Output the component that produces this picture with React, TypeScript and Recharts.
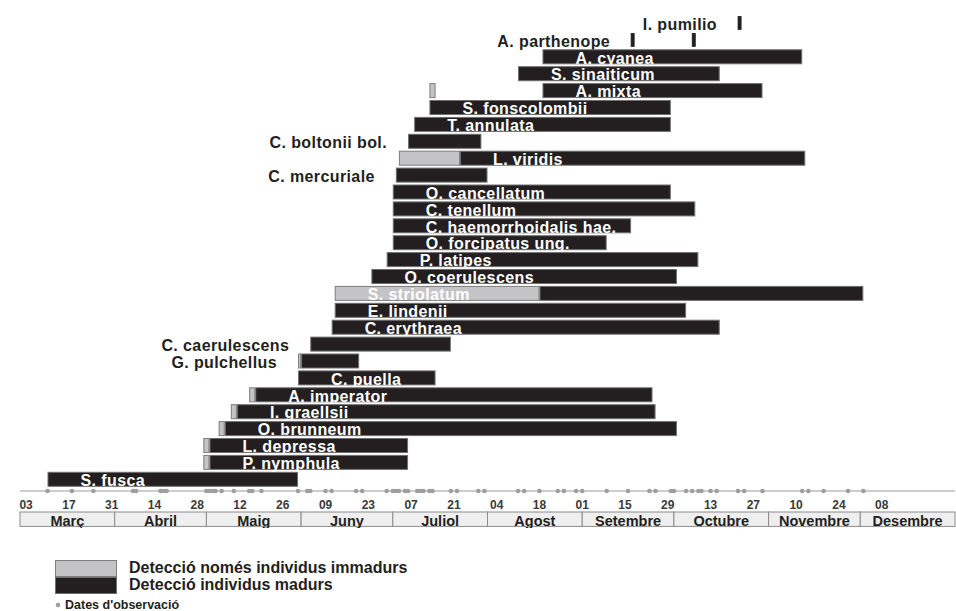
import React from 'react';
import { BarChart, Bar, XAxis, YAxis, Legend } from 'recharts';

// Species, top row first
const species = [
  'I. pumilio', 'A. parthenope', 'A. cyanea', 'S. sinaiticum', 'A. mixta', 'S. fonscolombii',
  'T. annulata', 'C. boltonii bol.', 'L. viridis', 'C. mercuriale', 'O. cancellatum', 'C. tenellum',
  'C. haemorrhoidalis hae.', 'O. forcipatus ung.', 'P. latipes', 'O. coerulescens', 'S. striolatum',
  'E. lindenii', 'C. erythraea', 'C. caerulescens', 'G. pulchellus', 'C. puella', 'A. imperator',
  'I. graellsii', 'O. brunneum', 'L. depressa', 'P. nymphula', 'S. fusca',
];

// Period with only immature individuals detected (MM-DD from / to), null if none
const immature: ([string, string] | null)[] = [
  null, null, null, null, ['07-13', '07-15'], null,
  null, null, ['07-03', '07-23'], null, null, null,
  null, null, null, null, ['06-12', '08-18'],
  null, null, null, ['05-31', '06-01'], null, ['05-15', '05-17'],
  ['05-09', '05-11'], ['05-05', '05-07'], ['04-30', '05-02'], ['04-30', '05-02'], null,
];

// Periods with mature individuals detected (MM-DD from / to)
const mature: [string, string][][] = [
  [['10-22', '10-23']],
  [['09-17', '09-18'], ['10-07', '10-08']],
  [['08-19', '11-12']],
  [['08-11', '10-16']],
  [['08-19', '10-30']],
  [['07-13', '09-30']],
  [['07-08', '09-30']],
  [['07-06', '07-30']],
  [['07-23', '11-13']],
  [['07-02', '08-01']],
  [['07-01', '09-30']],
  [['07-01', '10-08']],
  [['07-01', '09-17']],
  [['07-01', '09-09']],
  [['06-29', '10-09']],
  [['06-24', '10-02']],
  [['08-18', '12-02']],
  [['06-12', '10-05']],
  [['06-11', '10-16']],
  [['06-04', '07-20']],
  [['06-01', '06-20']],
  [['05-31', '07-15']],
  [['05-17', '09-24']],
  [['05-11', '09-25']],
  [['05-07', '10-02']],
  [['05-02', '07-06']],
  [['05-02', '07-06']],
  [['03-10', '05-31']],
];

// Field visit dates
const observationDates = [
  '03-10', '03-18', '03-25', '04-07', '04-08', '04-16', '04-17', '04-18',
  '05-01', '05-02', '05-03', '05-04', '05-06', '05-10', '05-15', '05-16', '05-19', '05-31',
  '06-03', '06-04', '06-09', '06-11', '06-19', '06-21', '06-29',
  '07-01', '07-02', '07-03', '07-05', '07-06', '07-09', '07-10', '07-11', '07-13', '07-14',
  '07-20', '07-22', '07-29', '07-31',
  '08-11', '08-13', '08-18', '08-24', '08-26', '08-30',
  '09-01', '09-09', '09-16', '09-23', '09-25', '09-30',
  '10-01', '10-05', '10-07', '10-09', '10-10', '10-13', '10-15', '10-22', '10-24', '10-30',
  '11-12', '11-14', '11-19', '11-27', '12-02',
];

// Fortnightly axis labels
const tickDates = [
  '03-03', '03-17', '03-31', '04-14', '04-28', '05-12', '05-26', '06-09', '06-23', '07-07',
  '07-21', '08-04', '08-18', '09-01', '09-15', '09-29', '10-13', '10-27', '11-10', '11-24', '12-08',
];

const months = ['Març', 'Abril', 'Maig', 'Juny', 'Juliol', 'Agost', 'Setembre', 'Octubre', 'Novembre', 'Desembre'];
const monthDays = [31, 30, 31, 30, 31, 31, 30, 31, 30, 31];

const legendLabels = ['Detecció només individus immadurs', 'Detecció individus madurs'];
const observationLabel = "Dates d'observació";

// ---- helpers ----
const FONT = '"Liberation Sans", Arial, Helvetica, sans-serif';
const INK = '#231f20';
const COLORS = {
  imm: { fill: '#c4c4c6', stroke: '#7d7d7d' },
  mat: { fill: INK, stroke: '#6f6f6f' },
};
const DOT = '#9e9e9e';

const monthStart = monthDays.reduce<number[]>((acc, d, i) => { acc.push(acc[i] + d); return acc; }, [0]);
const SEASON_END = monthStart[monthStart.length - 1];
const dayIndex = (s: string) => {
  const [m, d] = s.split('-').map(Number);
  return monthStart[m - 3] + d - 1;
};

type Span = { from: number; to: number; kind: 'imm' | 'mat' };
type Row = { name: string; spans: Span[]; anchor: number; [k: string]: any };

const rows: Row[] = species.map((name, i) => {
  const spans: Span[] = [];
  const imm = immature[i];
  if (imm) spans.push({ from: dayIndex(imm[0]), to: dayIndex(imm[1]), kind: 'imm' });
  mature[i].forEach(([a, b]) => spans.push({ from: dayIndex(a), to: dayIndex(b), kind: 'mat' }));
  spans.sort((a, b) => a.from - b.from);
  const rec: Row = { name, spans, anchor: 0, g0: 0, v0: 0, g1: 0, v1: 0 };
  let cursor = 0;
  spans.forEach((s, k) => {
    rec['g' + k] = s.from - cursor;
    rec['v' + k] = s.to - s.from;
    cursor = s.to;
  });
  // the name sits on the first mature period, unless a long immature period leads
  let anchor = spans.findIndex((s) => s.kind === 'mat');
  if (spans[0].kind === 'imm' && spans[0].to - spans[0].from > 40) anchor = 0;
  rec.anchor = anchor;
  return rec;
});

let measureCtx: CanvasRenderingContext2D | null = null;
const LABEL_SIZE = 16;
const LABEL_SPACING = 0.4;
function textWidth(s: string) {
  if (!measureCtx && typeof document !== 'undefined') {
    measureCtx = document.createElement('canvas').getContext('2d');
  }
  if (measureCtx) {
    measureCtx.font = `bold ${LABEL_SIZE}px ${FONT}`;
    return measureCtx.measureText(s).width + s.length * LABEL_SPACING;
  }
  return s.length * 9;
}

function segmentShape(k: number) {
  return (props: any) => {
    const { x, y, width, height, index } = props;
    const row: Row = props.payload && props.payload.spans ? props.payload : rows[index];
    const span = row && row.spans[k];
    if (!span || !(width > 0)) return <g />;
    const c = COLORS[span.kind];
    const narrow = width < 6;
    let label: React.ReactNode = null;
    if (row.anchor === k) {
      const ppd = width / (span.to - span.from);
      const tw = textWidth(row.name);
      const baseline = y + height - 0.8;
      const common = {
        y: baseline,
        fontFamily: FONT,
        fontWeight: 700,
        fontSize: LABEL_SIZE,
        letterSpacing: LABEL_SPACING,
      };
      if (tw + 33 <= width + 10) {
        label = <text {...common} x={x + 33} fill="#ffffff">{row.name}</text>;
      } else {
        const x0 = x - (span.from - row.spans[0].from) * ppd;
        label = <text {...common} x={x0 - 21} textAnchor="end" fill={INK}>{row.name}</text>;
      }
    }
    return (
      <g>
        {narrow && span.kind === 'mat' ? (
          <rect x={x} y={y + 1} width={width} height={height - 2} fill={c.fill} stroke={c.fill} strokeWidth={0.8} />
        ) : (
          <rect
            x={x + 0.5}
            y={y + 0.5}
            width={Math.max(width - 1, 1)}
            height={height - 1}
            fill={c.fill}
            stroke={c.stroke}
            strokeWidth={1}
          />
        )}
        {label}
      </g>
    );
  };
}

const labelByDay = new Map(tickDates.map((t) => [dayIndex(t), t.slice(3)] as [number, string]));
const obsDays = new Set(observationDates.map(dayIndex));
const axisTicks = Array.from(new Set([...labelByDay.keys(), ...obsDays])).sort((a, b) => a - b);

const renderAxisTick = (props: any) => {
  const { x, y, payload } = props;
  const v = payload.value as number;
  return (
    <g>
      {obsDays.has(v) && <circle cx={x} cy={y} r={2.3} fill={DOT} />}
      {labelByDay.has(v) && (
        <text x={x} y={y + 18} textAnchor="middle" fontFamily={FONT} fontWeight={700} fontSize={12} fill="#3a3a3a">
          {labelByDay.get(v)}
        </text>
      )}
    </g>
  );
};

const monthRow = [
  monthDays.reduce<Record<string, any>>((acc, d, i) => { acc['m' + i] = d; return acc; }, { name: 'mesos' }),
];

function monthShape(name: string) {
  return (props: any) => {
    const { x, y, width, height } = props;
    return (
      <g>
        <rect x={x} y={y} width={width} height={height} fill="#efefef" stroke="#8c8c8c" strokeWidth={1} />
        <text x={x + width / 2} y={y + 13.5} textAnchor="middle" fontFamily={FONT} fontWeight={700} fontSize={14.5} fill={INK}>
          {name}
        </text>
      </g>
    );
  };
}

const renderLegend = () => (
  <svg width={460} height={61} style={{ display: 'block' }}>
    <rect x={55.5} y={10.5} width={61} height={16} fill={COLORS.imm.fill} stroke={COLORS.imm.stroke} />
    <rect x={55.5} y={27.5} width={61} height={16} fill={COLORS.mat.fill} stroke={COLORS.mat.stroke} />
    <text x={129} y={23} fontFamily={FONT} fontWeight={700} fontSize={16} fill={INK}>{legendLabels[0]}</text>
    <text x={129} y={40} fontFamily={FONT} fontWeight={700} fontSize={16} fill={INK}>{legendLabels[1]}</text>
    <circle cx={58} cy={55} r={2.3} fill={DOT} />
    <text x={65} y={58.5} fontFamily={FONT} fontWeight={700} fontSize={12.5} fill={INK}>{observationLabel}</text>
  </svg>
);

export default function App() {
  return (
    <div style={{ position: 'absolute', left: 0, top: 0, width: 956, height: 611, background: '#ffffff' }}>
      <div style={{ position: 'absolute', left: 0, top: 0 }}>
        <BarChart
          width={956}
          height={611}
          data={rows}
          layout="vertical"
          margin={{ top: 14.5, right: 1, bottom: 100, left: 20 }}
          barSize={15}
        >
          <XAxis
            type="number"
            domain={[0, SEASON_END]}
            allowDataOverflow
            ticks={axisTicks}
            interval={0}
            tickLine={false}
            tickSize={0}
            tickMargin={0}
            height={20}
            axisLine={{ stroke: '#9a9a9a' }}
            tick={renderAxisTick}
          />
          <YAxis type="category" dataKey="name" hide padding={{ top: 0, bottom: 3.3 }} />
          <Bar dataKey="g0" stackId="p" fill="transparent" isAnimationActive={false} />
          <Bar dataKey="v0" stackId="p" shape={segmentShape(0)} isAnimationActive={false} />
          <Bar dataKey="g1" stackId="p" fill="transparent" isAnimationActive={false} />
          <Bar dataKey="v1" stackId="p" shape={segmentShape(1)} isAnimationActive={false} />
          <Legend
            layout="vertical"
            align="center"
            verticalAlign="middle"
            wrapperStyle={{ left: 0, top: 550, width: 460, height: 61 }}
            content={renderLegend}
          />
        </BarChart>
      </div>
      <div style={{ position: 'absolute', left: 0, top: 510 }}>
        <BarChart
          width={956}
          height={18}
          data={monthRow}
          layout="vertical"
          margin={{ top: 1, right: 1, bottom: 1, left: 20 }}
          barSize={16}
          barCategoryGap={0}
        >
          <XAxis type="number" domain={[0, SEASON_END]} hide />
          <YAxis type="category" dataKey="name" hide />
          {months.map((m, i) => (
            <Bar key={m} dataKey={'m' + i} stackId="mes" shape={monthShape(m)} isAnimationActive={false} />
          ))}
        </BarChart>
      </div>
    </div>
  );
}
